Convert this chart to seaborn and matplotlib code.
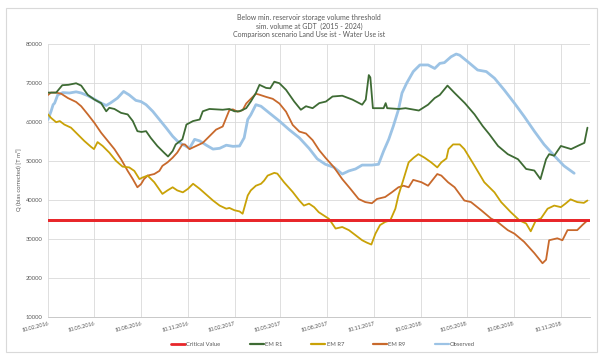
import numpy as np
import pandas as pd
import matplotlib
matplotlib.use("Agg")
import matplotlib.pyplot as plt
import matplotlib.dates as mdates
from matplotlib.lines import Line2D
from matplotlib.patches import Rectangle
import seaborn as sns

# ---------------- data ----------------
START = "2016-02-10"
END_DAY = 1061
critical_value = 35000

r1_days = [0, 16, 28, 40, 55, 65, 78, 91, 104, 114, 120, 130, 143, 156, 166, 175, 183, 192, 201, 214,
           227, 235, 244, 250, 263, 271, 284, 297, 303, 316, 342, 355, 365, 375, 388, 397, 407, 414, 427,
           435, 443, 453, 466, 482, 495, 505, 518, 531, 544, 557, 576, 596, 615, 622, 628, 631, 636, 657,
           661, 664, 687, 700, 726, 744, 757, 767, 782, 796, 816, 835, 851, 864, 881, 900, 920, 936, 952,
           964, 975, 981, 991, 1004, 1024, 1040, 1050, 1056]
r1_vals = [67600, 67600, 69500, 69600, 70000, 69400, 67000, 65800, 64900, 62800, 63700, 63400, 62400,
           62000, 60300, 57700, 57500, 57700, 56000, 53900, 52200, 51200, 52600, 54300, 55600, 59400,
           60300, 60700, 62800, 63400, 63200, 63400, 62800, 62800, 63600, 65300, 67500, 69600, 68800,
           68700, 70400, 70000, 68300, 65300, 63200, 64100, 63600, 64900, 65300, 66600, 66800, 65800,
           64500, 65800, 72100, 71500, 63600, 63600, 64900, 63600, 63400, 63600, 63000, 64500, 66200,
           67000, 69400, 67500, 64900, 62000, 59000, 56900, 53900, 51800, 50500, 48000, 47600, 45400,
           50500, 51800, 51400, 53900, 53100, 54100, 54700, 58600]

r7_days = [0, 6, 16, 23, 32, 45, 58, 71, 84, 90, 97, 107, 120, 133, 146, 159, 169, 179, 185, 195, 208,
           224, 234, 244, 253, 264, 274, 284, 297, 310, 323, 336, 349, 355, 365, 375, 381, 391, 397, 407,
           417, 423, 430, 443, 449, 462, 479, 492, 501, 511, 521, 530, 550, 563, 576, 589, 602, 615, 624,
           633, 641, 650, 660, 670, 680, 686, 696, 706, 716, 725, 737, 750, 762, 770, 780, 784, 793, 806,
           815, 835, 854, 874, 887, 906, 923, 936, 945, 955, 965, 978, 991, 1004, 1013, 1023, 1036, 1049,
           1056]
r7_vals = [62000, 61100, 60000, 60300, 59400, 58600, 56900, 55200, 53700, 53100, 54900, 53900, 52200,
           50100, 48600, 48400, 47500, 45400, 45800, 46300, 44600, 41600, 42500, 43300, 42500, 42000,
           42900, 44200, 42900, 41400, 39900, 38600, 37800, 38000, 37400, 37100, 36500, 41200, 42500,
           43700, 44200, 45000, 46300, 47000, 46800, 44600, 42100, 39900, 38600, 39100, 38200, 36900,
           35200, 32700, 33100, 32300, 31000, 29700, 29100, 28600, 31400, 33600, 34400, 34800, 37800,
           41200, 45400, 49700, 50900, 51800, 50900, 49700, 48400, 49700, 50700, 53100, 54300, 54300,
           53100, 48800, 44600, 42000, 39500, 36900, 34800, 34000, 32000, 34800, 35300, 37800, 38600,
           38200, 39100, 40200, 39500, 39300, 39900]

r9_days = [0, 6, 16, 26, 39, 55, 65, 78, 91, 104, 117, 130, 143, 156, 166, 175, 182, 188, 195, 208, 218,
           224, 234, 244, 253, 263, 268, 277, 290, 303, 316, 329, 342, 355, 362, 371, 381, 388, 397, 407,
           413, 427, 440, 453, 466, 479, 492, 505, 518, 531, 543, 560, 576, 592, 608, 621, 634, 644, 660,
           673, 686, 696, 706, 715, 731, 744, 762, 770, 783, 796, 815, 828, 848, 867, 880, 900, 913, 932,
           952, 968, 975, 981, 997, 1007, 1017, 1036, 1046, 1056]
r9_vals = [67000, 67600, 67600, 67300, 66200, 65200, 64100, 62000, 59800, 57300, 55200, 53100, 50500,
           47500, 45400, 43300, 44100, 45400, 46300, 46700, 47500, 48800, 49700, 50900, 52200, 54300,
           54300, 53100, 53900, 54700, 56400, 58100, 58900, 63100, 63300, 62700, 63100, 64800, 66000,
           67300, 67100, 66500, 66000, 64800, 62700, 59300, 57600, 57100, 55400, 52800, 50900, 48400,
           45400, 42900, 40300, 39500, 39200, 40300, 40800, 42000, 43300, 43700, 43300, 45200, 44600,
           43700, 46700, 46300, 44600, 43300, 39900, 39500, 37400, 35300, 34400, 32300, 31400, 29300,
           26400, 23800, 24700, 29700, 30200, 29700, 32300, 32300, 33600, 34800]

obs_days = [0, 6, 10, 13, 19, 29, 42, 55, 65, 78, 91, 104, 114, 123, 136, 148, 159, 172, 182, 192, 205,
            218, 231, 244, 253, 263, 268, 277, 287, 297, 310, 323, 336, 349, 362, 375, 384, 391, 397, 407,
            417, 433, 453, 472, 492, 511, 527, 543, 560, 576, 589, 602, 615, 634, 647, 657, 667, 676, 686,
            693, 702, 715, 728, 744, 757, 767, 776, 789, 799, 806, 822, 841, 858, 874, 893, 913, 932, 952,
            971, 991, 1010, 1030]
obs_vals = [60700, 62800, 64500, 64900, 67000, 67600, 67500, 67800, 67500, 66800, 65900, 64900, 64300,
            65000, 66200, 67900, 67000, 65600, 65300, 64500, 62800, 60700, 58600, 56400, 55200, 54300,
            54000, 53300, 55600, 55200, 54100, 53100, 53300, 54100, 53800, 53900, 56000, 60700, 61900,
            64500, 64100, 62400, 60300, 58100, 56000, 53300, 50600, 49200, 48400, 46700, 47500, 48000,
            49000, 49000, 49200, 52600, 55600, 59000, 63200, 67500, 70000, 73000, 74700, 74700, 73800,
            75100, 75300, 76800, 77500, 77200, 75500, 73400, 73000, 71300, 68300, 64900, 61500, 57700,
            54300, 51400, 48800, 46900]

series_names = ["Critical Value", "EM R1", "EM R7", "EM R9", "Observed"]
colors = {"Critical Value": "#e8262a", "EM R1": "#3e6b34", "EM R7": "#c9a207",
          "EM R9": "#c8692c", "Observed": "#9cc3e5"}
widths = {"Critical Value": 2.0, "EM R1": 1.3, "EM R7": 1.3, "EM R9": 1.3, "Observed": 2.0}

title_text = ("Below min. reservoir storage volume threshold\n"
              "sim. volume at GDT  (2015 - 2024)\n"
              "Comparison scenario Land Use ist - Water Use ist")
ylabel_text = "Q (bias corrected) [T m³]"

# ---------------- frames ----------------
start = pd.Timestamp(START)


def frame(days, vals, name):
    return pd.DataFrame({"date": start + pd.to_timedelta(days, unit="D"),
                         "value": vals, "series": name})


frames = {
    "Critical Value": frame([0, END_DAY], [critical_value, critical_value], "Critical Value"),
    "EM R1": frame(r1_days, r1_vals, "EM R1"),
    "EM R7": frame(r7_days, r7_vals, "EM R7"),
    "EM R9": frame(r9_days, r9_vals, "EM R9"),
    "Observed": frame(obs_days, obs_vals, "Observed"),
}

# ---------------- plot ----------------
sns.set_theme(style="white")
plt.rcParams["font.family"] = ["Lato", "DejaVu Sans"]

fig = plt.figure(figsize=(6.02, 3.56), dpi=100)
ax = fig.add_axes([48 / 602, 1 - 317 / 356, (590 - 48) / 602, (317 - 44.3) / 356])

draw_order = ["Critical Value", "Observed", "EM R9", "EM R7", "EM R1"]
for name in draw_order:
    sns.lineplot(data=frames[name], x="date", y="value", ax=ax, color=colors[name],
                 linewidth=widths[name], legend=False, estimator=None, sort=True)
# critical value on top like the reference
sns.lineplot(data=frames["Critical Value"], x="date", y="value", ax=ax,
             color=colors["Critical Value"], linewidth=widths["Critical Value"], legend=False)

ax.set_ylim(10000, 80000)
ax.set_xlim(start, start + pd.Timedelta(days=END_DAY))
ax.set_yticks(np.arange(10000, 80001, 10000))
ax.yaxis.set_major_formatter(matplotlib.ticker.FuncFormatter(lambda v, p: f"{int(v)}"))

ax.xaxis.set_major_locator(mdates.MonthLocator(bymonth=[2, 5, 8, 11], bymonthday=10))
ax.xaxis.set_major_formatter(mdates.DateFormatter("%d.%m.%Y"))
ax.xaxis.set_minor_locator(mdates.MonthLocator(bymonthday=10))

ax.grid(True, which="major", color="#d9d9d9", linewidth=0.6)
ax.set_axisbelow(True)
for s in ["top", "right", "left"]:
    ax.spines[s].set_visible(False)
ax.spines["bottom"].set_color("#bfbfbf")
ax.spines["bottom"].set_linewidth(0.6)

ax.tick_params(axis="y", length=0, pad=4, labelsize=4.2, labelcolor="#595959")
ax.tick_params(axis="x", which="major", length=0, pad=3, labelsize=4.0, labelcolor="#595959")
ax.tick_params(axis="x", which="minor", length=2, width=0.5, color="#bfbfbf", direction="out")
for lab in ax.get_xticklabels():
    lab.set_rotation(15)
    lab.set_ha("right")
    lab.set_rotation_mode("anchor")

ax.set_xlabel("")
ax.set_ylabel("")

fig.text(19 / 602, 1 - 180 / 356, ylabel_text, rotation=90, ha="center", va="center",
         fontsize=4.2, color="#595959")
fig.text(309 / 602, 1 - 26 / 356, title_text, ha="center", va="center",
         fontsize=5.0, color="#595959", linespacing=1.25)

handles = [Line2D([0], [0], color=colors[n], linewidth=widths[n] if n == "Critical Value" else 1.6)
           for n in series_names]
fig.legend(handles, series_names, loc="center", bbox_to_anchor=(323 / 602, 1 - 344 / 356),
           ncol=5, frameon=False, fontsize=4.2, labelcolor="#595959", handlelength=2.4,
           handletextpad=0.2, columnspacing=5.0)

fig.patches.append(Rectangle((6 / 602, 4 / 356), 591 / 602, 344 / 356, transform=fig.transFigure,
                             fill=False, edgecolor="#d9d9d9", linewidth=0.8))

fig.savefig("out.png", dpi=100)
